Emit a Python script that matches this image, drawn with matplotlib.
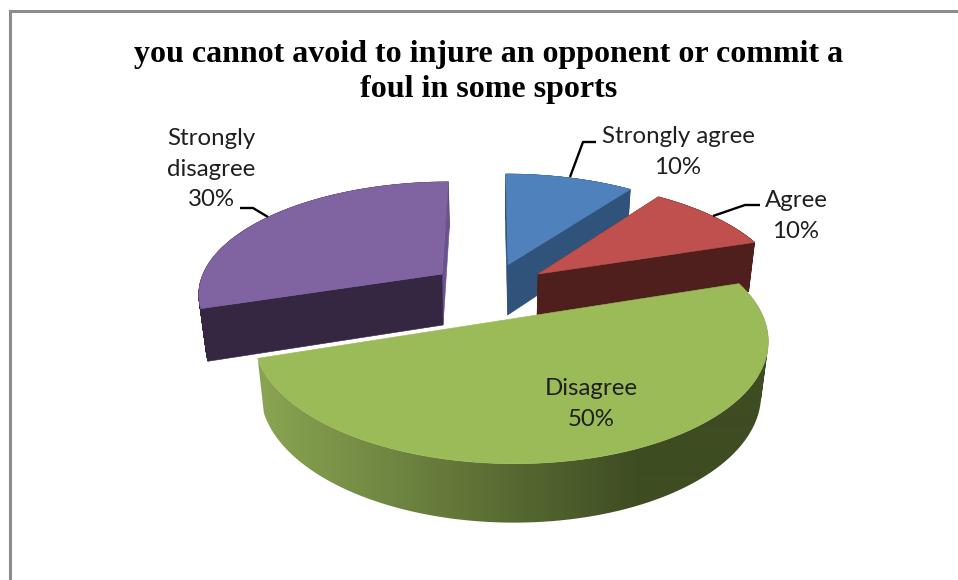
#!/usr/bin/env python3
"""Exploded 3D pie of survey answers, projected by hand onto a flat axes."""

import numpy as np
import matplotlib
matplotlib.use("Agg")
import matplotlib.pyplot as plt
from matplotlib.colors import LinearSegmentedColormap
from matplotlib.patches import PathPatch, Polygon
from matplotlib.path import Path

CATEGORIES = ["Strongly agree", "Agree", "Disagree", "Strongly disagree"]
PERCENTS = [10, 10, 50, 30]

TITLE = "you cannot avoid to injure an opponent or commit a\nfoul in some sports"

TOP_COLORS = ["#4f81bd", "#c0504d", "#9bbb59", "#8064a2"]
SIDE_COLORS = ["#30537c", "#4f1f1d", "#3e4c22", "#352642"]
SLIVER_PURPLE = "#6a5190"

# Pie geometry in pixels
CX, CY = 490, 290
RX, RY = 247, 112.8
THICK = 53
PERSP = 0.162
PERSP_Z = 0.025
EXPLODES = [0.246, 0.246, 0.26, 0.246]
RADII = [1.0, 1.0, 0.985, 0.99]

TEXT = "#1f1f1f"
BORDER = "#8c8c8c"

# Front rim shading runs left to right, flat past the dark stop
RIM_CMAP = LinearSegmentedColormap.from_list("rim", ["#8aa552", "#3e4c22"])
RIM_X0, RIM_X1 = 258, 640


def project(u, v, z=0.0):
    w = 1 + PERSP * v + PERSP_Z * z
    return CX + RX * u / w, CY - (RY * v - THICK * z) / w


def rim_path(upper, lower):
    # One quad per step, all wound the same way so overlaps stay filled
    quads = []
    for i in range(len(upper) - 1):
        pts = np.array([upper[i], upper[i + 1], lower[i + 1], lower[i]])
        x, y = pts[:, 0], pts[:, 1]
        area = np.dot(x, np.roll(y, -1)) - np.dot(y, np.roll(x, -1))
        if area < 0:
            pts = pts[::-1]
        quads.append(Path(np.vstack([pts, pts[0]]), closed=True))
    return Path.make_compound_path(*quads)


def draw_slice(ax, start, end, top, side, explode, radius, shaded=False,
               end_face=None):
    mid = np.radians((start + end) / 2)
    u0, v0 = explode * np.sin(mid), explode * np.cos(mid)
    thetas = np.radians(np.linspace(start, end, 181))
    us = u0 + radius * np.sin(thetas)
    vs = v0 + radius * np.cos(thetas)

    upper = [project(a, b) for a, b in zip(us, vs)]
    lower = [project(a, b, 1) for a, b in zip(us, vs)]
    path = rim_path(upper, lower)

    if shaded:
        # Gradient image clipped to the rim outline
        ramp = np.clip((np.arange(0, 958) - RIM_X0) / (RIM_X1 - RIM_X0), 0, 1)
        img = ax.imshow(ramp[np.newaxis, :], extent=(0, 958, 580, 0),
                        cmap=RIM_CMAP, vmin=0, vmax=1, aspect="auto",
                        interpolation="bilinear", zorder=2)
        rim = PathPatch(path, facecolor="none", edgecolor="none", zorder=2)
        ax.add_patch(rim)
        img.set_clip_path(rim)
    else:
        ax.add_patch(PathPatch(path, facecolor=side, edgecolor=side, linewidth=0.4))
        # Cut faces; the front slice has both of them facing away
        for k in (-1, 0):
            color = end_face if (end_face and k == -1) else side
            pts = [project(u0, v0), upper[k], lower[k], project(u0, v0, 1)]
            ax.add_patch(Polygon(pts, closed=True, facecolor=color,
                                 edgecolor=color, linewidth=0.4))

    ax.add_patch(Polygon([project(u0, v0)] + upper, closed=True, facecolor=top,
                         edgecolor=top, linewidth=0.4, zorder=3 if shaded else 1))


def main():
    fig = plt.figure(figsize=(9.58, 5.8), dpi=100, facecolor="white")
    ax = fig.add_axes([0, 0, 1, 1])
    ax.set_xlim(0, 958)
    ax.set_ylim(580, 0)
    ax.axis("off")

    # Chart frame, cut off at the bottom and on the right
    ax.plot([10, 10, 958], [580, 11, 11], color=BORDER, lw=2.2,
            solid_joinstyle="miter")

    edges = np.cumsum([0] + PERCENTS) * 360 / sum(PERCENTS)

    # Back slices first, the big front slice last
    for i in [0, 1, 3, 2]:
        draw_slice(ax, edges[i], edges[i + 1], TOP_COLORS[i], SIDE_COLORS[i],
                   EXPLODES[i], RADII[i], shaded=i == 2,
                   end_face=SLIVER_PURPLE if i == 3 else None)

    ax.set_xlim(0, 958)
    ax.set_ylim(580, 0)

    ax.text(489, 72, TITLE, ha="center", va="center", fontsize=23,
            fontweight="bold", family="Liberation Serif", color="black",
            linespacing=1.28, zorder=5)

    font = dict(ha="center", va="center", fontsize=17.3, family="Lato",
                color=TEXT, linespacing=1.58, zorder=5)
    ax.text(678, 152, f"{CATEGORIES[0]}\n{PERCENTS[0]}%", **font)
    ax.text(796, 216, f"{CATEGORIES[1]}\n{PERCENTS[1]}%", **font)
    ax.text(591, 404, f"{CATEGORIES[2]}\n{PERCENTS[2]}%", **font)
    ax.text(211, 169, f"Strongly\ndisagree\n{PERCENTS[3]}%", **font)

    # Leader lines
    leader = dict(color="black", lw=1.7, solid_capstyle="butt", zorder=5)
    ax.plot([596, 583, 570], [142, 142, 177], **leader)
    ax.plot([760, 745, 713], [205, 205, 216], **leader)
    ax.plot([240, 253, 268], [208, 208, 217], **leader)

    fig.savefig("out.png", dpi=100, facecolor="white")
    plt.close(fig)


if __name__ == "__main__":
    main()
